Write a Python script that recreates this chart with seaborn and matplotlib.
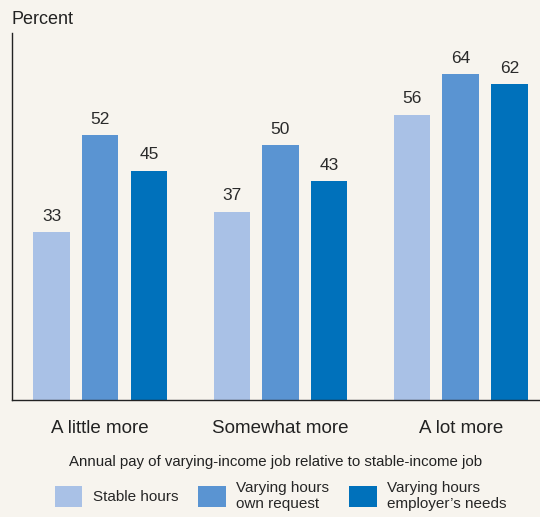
import pandas as pd
import matplotlib.pyplot as plt
import seaborn as sns

# --- data ---
categories = ['A little more', 'Somewhat more', 'A lot more']
series = ['Stable hours', 'Varying hours\nown request', 'Varying hours\nemployer’s needs']
stable_hours = [33, 37, 56]
own_request = [52, 50, 64]
employer_needs = [45, 43, 62]

colors = ['#a9c1e6', '#5a94d2', '#0071bb']
bg = '#f7f4ee'

df = pd.DataFrame({
    'group': categories * 3,
    'series': [series[0]] * 3 + [series[1]] * 3 + [series[2]] * 3,
    'value': stable_hours + own_request + employer_needs,
})

sns.set_style('white')
plt.rcParams['font.family'] = ['Liberation Sans Narrow', 'Liberation Sans', 'DejaVu Sans']

fig = plt.figure(figsize=(5.4, 5.17), dpi=100, facecolor=bg)
ax = fig.add_axes([0.022, 0.226, 0.978, 0.71], facecolor=bg)

sns.barplot(data=df, x='group', y='value', hue='series', palette=colors,
            order=categories, hue_order=series, width=0.81, gap=0.25,
            saturation=1, linewidth=0, ax=ax, legend=True)

for c in ax.containers:
    ax.bar_label(c, fmt='%d', padding=6, fontsize=12.5, color='#2a2a2a')

ax.set_ylim(0, 72)
ax.set_xlim(-0.49, 2.44)
ax.set_yticks([])
ax.set_ylabel('')
ax.set_xlabel('Annual pay of varying-income job relative to stable-income job',
              fontsize=10.8, color='#222222', labelpad=13)
ax.tick_params(axis='x', length=0, labelsize=13.5, pad=14, colors='#222222')
for s in ['top', 'right']:
    ax.spines[s].set_visible(False)
for s in ['left', 'bottom']:
    ax.spines[s].set_color('#222222')
    ax.spines[s].set_linewidth(1.0)

fig.text(0.022, 0.963, 'Percent', fontsize=13, color='#222222', va='center')

handles, labels = ax.get_legend_handles_labels()
ax.get_legend().remove()
fig.legend(handles, labels, loc='center', bbox_to_anchor=(0.52, 0.041), ncol=3,
           frameon=False, fontsize=11, handlelength=1.8, handleheight=1.8,
           handletextpad=0.7, columnspacing=1.3, labelspacing=0.1)

fig.savefig('out.png', dpi=100, facecolor=bg)
